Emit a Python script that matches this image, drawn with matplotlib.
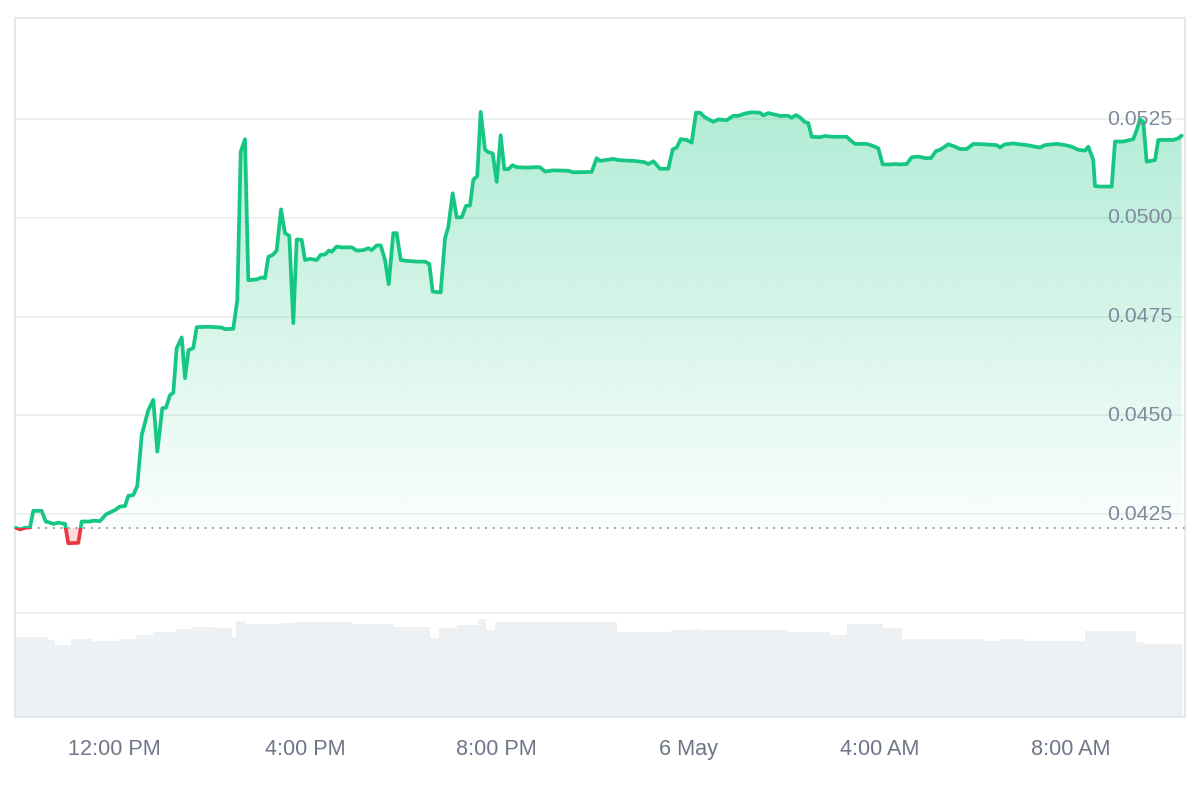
import numpy as np
import matplotlib
matplotlib.use("Agg")
import matplotlib.pyplot as plt
from matplotlib.patches import Rectangle, PathPatch
from matplotlib.path import Path
import matplotlib.transforms as mtransforms

# ---------------- data ----------------
# time in hours since 5 May 00:00, price in USD
hours = [9.952, 10.035, 10.140, 10.244, 10.313, 10.489, 10.573, 10.662, 10.731, 10.836,
         10.976, 11.045, 11.254, 11.325, 11.498, 11.567, 11.707, 11.833, 12.021, 12.125,
         12.230, 12.299, 12.403, 12.487, 12.579, 12.717, 12.821, 12.905, 13.009, 13.087,
         13.170, 13.239, 13.310, 13.415, 13.484, 13.557, 13.657, 13.728, 13.971, 14.251,
         14.320, 14.493, 14.577, 14.648, 14.738, 14.807, 14.982, 15.087, 15.156, 15.225,
         15.317, 15.400, 15.490, 15.574, 15.664, 15.747, 15.818, 15.923, 15.992, 16.096,
         16.236, 16.320, 16.410, 16.493, 16.550, 16.654, 16.759, 16.968, 17.072, 17.210,
         17.315, 17.386, 17.490, 17.574, 17.664, 17.741, 17.837, 17.908, 17.992, 18.117,
         18.326, 18.500, 18.590, 18.660, 18.827, 18.918, 18.987, 19.078, 19.162, 19.266,
         19.356, 19.440, 19.509, 19.592, 19.663, 19.753, 19.822, 19.914, 19.998, 20.081,
         20.157, 20.240, 20.332, 20.416, 20.625, 20.834, 20.903, 21.007, 21.181, 21.495,
         21.599, 21.984, 22.088, 22.157, 22.435, 22.540, 22.853, 23.077, 23.167, 23.272,
         23.411, 23.584, 23.676, 23.760, 23.843, 23.969, 24.073, 24.163, 24.246, 24.351,
         24.524, 24.629, 24.804, 24.942, 25.047, 25.187, 25.327, 25.500, 25.569, 25.674,
         25.778, 25.918, 26.092, 26.163, 26.253, 26.337, 26.441, 26.510, 26.581, 26.755,
         26.859, 27.033, 27.313, 27.382, 27.486, 27.731, 27.835, 27.973, 28.065, 28.218,
         28.322, 28.427, 28.567, 28.671, 28.809, 28.949, 29.074, 29.179, 29.262, 29.436,
         29.576, 29.680, 29.820, 29.958, 30.167, 30.447, 30.516, 30.621, 30.794, 31.074,
         31.248, 31.352, 31.457, 31.701, 31.875, 32.015, 32.153, 32.293, 32.362, 32.466,
         32.502, 32.606, 32.851, 32.920, 33.093, 33.302, 33.373, 33.442, 33.511, 33.582,
         33.756, 33.825, 33.930, 34.139, 34.243, 34.314]

prices = [0.04215, 0.04211, 0.04215, 0.04216, 0.04258, 0.04258, 0.04231, 0.04228, 0.04225, 0.04228,
          0.04225, 0.04176, 0.04177, 0.04231, 0.04231, 0.04233, 0.04232, 0.04249, 0.04260, 0.04269,
          0.04270, 0.04296, 0.04298, 0.04321, 0.04450, 0.04513, 0.04539, 0.04408, 0.04518, 0.04519,
          0.04551, 0.04557, 0.04670, 0.04697, 0.04594, 0.04665, 0.04670, 0.04723, 0.04724, 0.04722,
          0.04718, 0.04719, 0.04792, 0.05167, 0.05199, 0.04842, 0.04844, 0.04849, 0.04847, 0.04901,
          0.04906, 0.04917, 0.05021, 0.04961, 0.04954, 0.04733, 0.04945, 0.04944, 0.04893, 0.04896,
          0.04893, 0.04906, 0.04907, 0.04917, 0.04914, 0.04927, 0.04925, 0.04925, 0.04917, 0.04918,
          0.04923, 0.04918, 0.04930, 0.04930, 0.04893, 0.04832, 0.04961, 0.04961, 0.04893, 0.04891,
          0.04889, 0.04889, 0.04883, 0.04813, 0.04811, 0.04948, 0.04977, 0.05062, 0.05001, 0.05001,
          0.05030, 0.05031, 0.05096, 0.05106, 0.05268, 0.05173, 0.05166, 0.05163, 0.05091, 0.05209,
          0.05123, 0.05123, 0.05133, 0.05128, 0.05127, 0.05128, 0.05128, 0.05117, 0.05120, 0.05119,
          0.05115, 0.05116, 0.05151, 0.05144, 0.05149, 0.05146, 0.05144, 0.05141, 0.05136, 0.05143,
          0.05124, 0.05124, 0.05173, 0.05178, 0.05199, 0.05197, 0.05190, 0.05266, 0.05266, 0.05254,
          0.05243, 0.05249, 0.05247, 0.05258, 0.05258, 0.05264, 0.05267, 0.05266, 0.05259, 0.05265,
          0.05262, 0.05258, 0.05258, 0.05253, 0.05260, 0.05254, 0.05242, 0.05240, 0.05205, 0.05204,
          0.05207, 0.05205, 0.05205, 0.05197, 0.05187, 0.05187, 0.05183, 0.05176, 0.05135, 0.05135,
          0.05136, 0.05135, 0.05136, 0.05153, 0.05155, 0.05151, 0.05151, 0.05169, 0.05172, 0.05186,
          0.05180, 0.05174, 0.05174, 0.05187, 0.05186, 0.05184, 0.05178, 0.05186, 0.05188, 0.05184,
          0.05180, 0.05178, 0.05184, 0.05187, 0.05184, 0.05180, 0.05172, 0.05170, 0.05180, 0.05146,
          0.05080, 0.05079, 0.05079, 0.05193, 0.05193, 0.05199, 0.05222, 0.05249, 0.05243, 0.05142,
          0.05146, 0.05197, 0.05197, 0.05197, 0.05201, 0.05208]

baseline_price = 0.04215

# volume (arbitrary units) as step segments: start hour, end hour, level
vol_start = [9.931, 10.621, 10.777, 11.101, 11.540, 12.104, 12.460, 12.815, 13.296, 13.609,
             14.090, 14.456, 14.550, 14.738, 15.490, 15.783, 16.974, 17.852, 18.614, 18.792,
             19.168, 19.607, 19.774, 19.962, 22.512, 23.640, 24.121, 24.246, 26.075, 26.963,
             27.318, 28.071, 28.468, 30.161, 30.558, 31.039, 32.293, 33.358, 33.505]
vol_end = vol_start[1:] + [34.341]
vol_level = [7.97, 7.70, 7.20, 7.80, 7.63, 7.80, 8.20, 8.53, 8.80, 9.03,
             8.87, 8.03, 9.63, 9.30, 9.43, 9.47, 9.27, 9.03, 7.87, 8.87,
             9.20, 9.80, 8.70, 9.53, 8.47, 8.70, 8.83, 8.70, 8.47, 8.20,
             9.27, 8.87, 7.80, 7.63, 7.80, 7.63, 8.63, 7.47, 7.27]

price_ticks = [0.0425, 0.0450, 0.0475, 0.0500, 0.0525]
grid_levels = [0.0400, 0.0425, 0.0450, 0.0475, 0.0500, 0.0525]
time_ticks = [12, 16, 20, 24, 28, 32]
time_labels = ["12:00 PM", "4:00 PM", "8:00 PM", "6 May", "4:00 AM", "8:00 AM"]

# ---------------- style ----------------
GREEN = "#16c784"
RED = "#ea3943"
plt.rcParams["font.family"] = ["Liberation Sans", "DejaVu Sans"]

fig = plt.figure(figsize=(12, 8), dpi=100)
fig.patch.set_facecolor("white")
ax = fig.add_axes([0.0125, 0.10375, 0.975, 0.87375])
ax.set_facecolor("white")

XMIN, XMAX = 9.931, 34.383
YMIN, YMAX = 0.037361, 0.055057
ax.set_xlim(XMIN, XMAX)
ax.set_ylim(YMIN, YMAX)

# volume on a twin axis
axv = ax.twinx()
axv.set_ylim(0, 69.9)
axv.bar(vol_start, np.array(vol_level), width=np.array(vol_end) - np.array(vol_start),
        align="edge", color="#eef1f4", edgecolor="none", zorder=1)
axv.axis("off")
ax.set_zorder(axv.get_zorder() + 1)
ax.patch.set_visible(False)

# grid lines
for g in grid_levels:
    ax.axhline(g, color="#eceef1", linewidth=1.2, zorder=0)

x = np.array(hours)
y = np.array(prices)

# gradient fill above baseline
top_val = y.max()
grad = np.linspace(0.0, 1.0, 256).reshape(-1, 1)
rgba = np.zeros((256, 1, 4))
rgba[..., 0] = 22 / 255
rgba[..., 1] = 199 / 255
rgba[..., 2] = 132 / 255
rgba[..., 3] = 0.02 + 0.31 * grad
im = ax.imshow(rgba, extent=[XMIN, XMAX, baseline_price, top_val], origin="lower",
               aspect="auto", zorder=2, interpolation="bilinear")
verts = np.vstack([np.column_stack([x, y]),
                   [[x[-1], baseline_price], [x[0], baseline_price]]])
fp = PathPatch(Path(verts), transform=ax.transData, facecolor="none", edgecolor="none")
ax.add_patch(fp)
im.set_clip_path(fp)

# red fill below baseline
ax.fill_between(x, y, baseline_price, where=y < baseline_price + 1e-9,
                interpolate=True, color=RED, alpha=0.18, linewidth=0, zorder=2)

# baseline dotted line
ax.axhline(baseline_price, color="#8f96a3", linewidth=1.3, linestyle=(0, (1, 3.2)), zorder=3)

# price line, green above / red below baseline
l_up, = ax.plot(x, y, color=GREEN, linewidth=2.7, solid_joinstyle="round",
                solid_capstyle="round", zorder=4)
l_up.set_clip_path(Rectangle((XMIN - 1, baseline_price), XMAX - XMIN + 2, 1.0,
                             transform=ax.transData))
l_dn, = ax.plot(x, y, color=RED, linewidth=2.7, solid_joinstyle="round",
                solid_capstyle="round", zorder=4)
l_dn.set_clip_path(Rectangle((XMIN - 1, baseline_price - 1.0), XMAX - XMIN + 2, 1.0,
                             transform=ax.transData))

# y labels inside at right
trans = mtransforms.blended_transform_factory(ax.transAxes, ax.transData)
for v in price_ticks:
    ax.text(0.9889, v, f"{v:.4f}", transform=trans, ha="right", va="center",
            fontsize=15.3, color="#808a9d", zorder=5)
ax.set_yticks([])

ax.set_xticks(time_ticks)
ax.set_xticklabels(time_labels, fontsize=15.6, color="#6e7687")
ax.tick_params(axis="x", length=0, pad=15.5)

for s in ax.spines.values():
    s.set_color("#e6e8eb")
    s.set_linewidth(1.5)
for s in axv.spines.values():
    s.set_visible(False)

fig.savefig("out.png", dpi=100, facecolor="white")
